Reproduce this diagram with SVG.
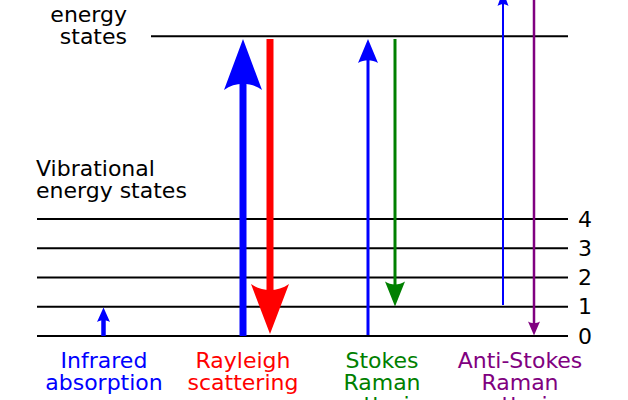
<svg xmlns="http://www.w3.org/2000/svg" width="628" height="400" viewBox="0 0 628 400">
<style>
text{font-family:"DejaVu Sans","Liberation Sans",sans-serif;font-size:22px}
.lvl{stroke:#000;stroke-width:2;fill:none}
.mid{text-anchor:middle}
.end{text-anchor:end}
</style>
<rect width="628" height="400" fill="#fff"/>
<g id="virtual-level">
<line class="lvl" x1="151" y1="36.3" x2="568" y2="36.3"/>
<text class="end" x="127" y="21.5">energy</text>
<text class="end" x="127" y="43.5">states</text>
</g>
<g id="vibrational-levels">
<text x="36" y="176">Vibrational</text>
<text x="36" y="198">energy states</text>
<line class="lvl" x1="37" y1="219" x2="568" y2="219"/>
<line class="lvl" x1="37" y1="248.3" x2="568" y2="248.3"/>
<line class="lvl" x1="37" y1="277.6" x2="568" y2="277.6"/>
<line class="lvl" x1="37" y1="306.8" x2="568" y2="306.8"/>
<line class="lvl" x1="37" y1="336" x2="568" y2="336"/>
<text x="578" y="226.5">4</text>
<text x="578" y="255.8">3</text>
<text x="578" y="285.1">2</text>
<text x="578" y="314.3">1</text>
<text x="578" y="343.5">0</text>
</g>
<g id="connectors">
<g id="infrared" fill="#00f">
<line x1="103.5" y1="336" x2="103.5" y2="318" stroke="#00f" stroke-width="4.5"/>
<path d="M103.5,307.5 L110,322 C106.1,319.7 100.9,319.7 97,322 Z"/>
</g>
<g id="rayleigh">
<line x1="243" y1="336" x2="243" y2="80" stroke="#00f" stroke-width="7"/>
<path fill="#00f" d="M243,39 L262,90 C250.7,81.8 235.3,81.8 224,90 Z"/>
<line x1="270" y1="39" x2="270" y2="292" stroke="#f00" stroke-width="7"/>
<path fill="#f00" d="M270,334 L289,284 C277.7,292 262.3,292 251,284 Z"/>
</g>
<g id="stokes">
<line x1="368" y1="335" x2="368" y2="58" stroke="#00f" stroke-width="3"/>
<path fill="#00f" d="M368,39 L378,63 C372,59.2 364,59.2 358,63 Z"/>
<line x1="395" y1="39" x2="395" y2="288" stroke="#008000" stroke-width="3"/>
<path fill="#008000" d="M395,306.5 L405,281.5 C399,285.5 391,285.5 385,281.5 Z"/>
</g>
<g id="anti-stokes">
<line x1="503" y1="305" x2="503" y2="2" stroke="#00f" stroke-width="2"/>
<path fill="#00f" d="M503,-9 L508.5,6 C505.2,3.6 500.8,3.6 497.5,6 Z"/>
<line x1="534" y1="0" x2="534" y2="326" stroke="#800080" stroke-width="2.5"/>
<path fill="#800080" d="M534,335.5 L540,321.5 C536.4,323.7 531.6,323.7 528,321.5 Z"/>
</g>
</g>
<g id="labels">
<text class="mid" x="104" y="368" fill="#00f">Infrared</text>
<text class="mid" x="104" y="390" fill="#00f">absorption</text>
<text class="mid" x="243" y="368" fill="#f00">Rayleigh</text>
<text class="mid" x="243" y="390" fill="#f00">scattering</text>
<text class="mid" x="382" y="368" fill="#008000">Stokes</text>
<text class="mid" x="382" y="390" fill="#008000">Raman</text>
<text class="mid" x="382" y="412" fill="#008000">scattering</text>
<text class="mid" x="520" y="368" fill="#800080">Anti-Stokes</text>
<text class="mid" x="520" y="390" fill="#800080">Raman</text>
<text class="mid" x="520" y="412" fill="#800080">scattering</text>
</g>
</svg>
